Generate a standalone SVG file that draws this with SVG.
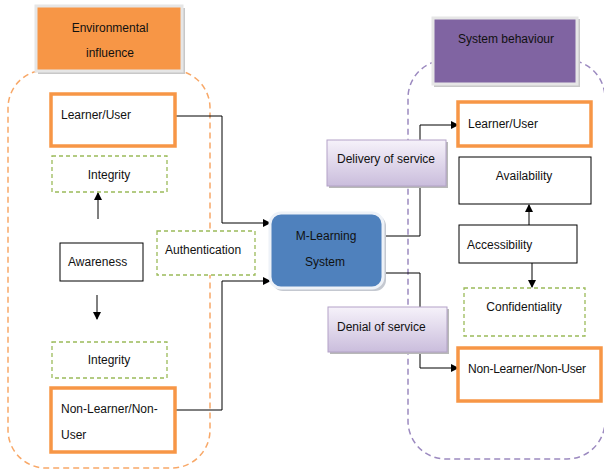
<svg xmlns="http://www.w3.org/2000/svg" width="604" height="470" viewBox="0 0 604 470">
<defs>
<style>
text{font-family:"Liberation Sans",Arial,sans-serif;font-size:12px;fill:#111}
.c{text-anchor:middle}
.orange{fill:#fff;stroke:#F79646;stroke-width:3.5}
.plain{fill:#fff;stroke:#000;stroke-width:1}
.green{fill:#fff;stroke:#9BBB59;stroke-width:1.3;stroke-dasharray:4 3}
.conn{fill:none;stroke:#000;stroke-width:1}
.lav{fill:url(#lavg);stroke:#B3A2C7;stroke-width:1}
.sh{fill:#b8b8b8}
</style>
<linearGradient id="lavg" x1="0" y1="0" x2="0" y2="1">
<stop offset="0" stop-color="#F6F2FA"/>
<stop offset="1" stop-color="#CABDDC"/>
</linearGradient>
<marker id="ah" markerWidth="8" markerHeight="8" refX="7" refY="4" orient="auto" markerUnits="userSpaceOnUse">
<path d="M0,0 L8,4 L0,8 Z" fill="#000"/>
</marker>
</defs>

<g id="containers">
<rect x="8" y="70" width="202" height="398" rx="38" fill="none" stroke="#F8A868" stroke-width="1.5" stroke-dasharray="6 4"/>
<rect x="408" y="60" width="197" height="399" rx="38" fill="none" stroke="#9C8AC0" stroke-width="1.5" stroke-dasharray="6 4"/>
</g>

<g id="connectors">
<path class="conn" d="M175,116 H222 V223 H270" marker-end="url(#ah)"/>
<path class="conn" d="M175,410 H222 V281 H270" marker-end="url(#ah)"/>
<path class="conn" d="M383,236 H420 V125 H458" marker-end="url(#ah)"/>
<path class="conn" d="M383,273 H420 V368 H458" marker-end="url(#ah)"/>
<path class="conn" d="M98,219 V193" marker-end="url(#ah)"/>
<path class="conn" d="M97,295 V319" marker-end="url(#ah)"/>
<path class="conn" d="M529,225 V205" marker-end="url(#ah)"/>
<path class="conn" d="M532,263 V287" marker-end="url(#ah)"/>
</g>

<g id="env-influence">
<rect x="38" y="8" width="147" height="66" fill="#c8c8c8"/>
<rect x="36" y="6" width="146" height="65" fill="#F79646" stroke="#E6E6E6" stroke-width="3"/>
<text class="c" x="110" y="32">Environmental</text>
<text class="c" x="110" y="57">influence</text>
</g>

<g id="learner-left">
<rect class="orange" x="51" y="94" width="124" height="52"/>
<text x="61" y="119">Learner/User</text>
</g>

<g id="integrity-top">
<rect class="green" x="52" y="156" width="115" height="36"/>
<text class="c" x="109" y="179">Integrity</text>
</g>

<g id="awareness">
<rect class="plain" x="60" y="243" width="83" height="38"/>
<text x="68" y="266">Awareness</text>
</g>

<g id="integrity-bottom">
<rect class="green" x="52" y="342" width="115" height="36"/>
<text class="c" x="109" y="364">Integrity</text>
</g>

<g id="nonlearner-left">
<rect class="orange" x="51" y="388" width="124" height="64"/>
<text x="61" y="413">Non-Learner/Non-</text>
<text x="61" y="439">User</text>
</g>

<g id="authentication">
<rect class="green" x="157" y="231" width="98" height="44"/>
<text x="165" y="254">Authentication</text>
</g>

<g id="mlearning">
<rect x="272" y="215" width="114" height="76" rx="11" fill="#c4c8d0"/>
<rect x="270" y="213" width="113" height="75" rx="11" fill="#4F81BD" stroke="#EEF2F8" stroke-width="3"/>
<text class="c" x="326" y="240">M-Learning</text>
<text class="c" x="325" y="266">System</text>
</g>

<g id="delivery">
<rect class="sh" x="329" y="142" width="119" height="46"/>
<rect class="lav" x="327" y="140" width="119" height="46"/>
<text x="337" y="163">Delivery of service</text>
</g>

<g id="denial">
<rect class="sh" x="330" y="309" width="119" height="45"/>
<rect class="lav" x="328" y="307" width="119" height="45"/>
<text x="337" y="331">Denial of service</text>
</g>

<g id="system-behaviour">
<rect x="434" y="19" width="146" height="68" fill="#c8c8c8"/>
<rect x="433" y="18" width="144" height="66" fill="#8064A2" stroke="#E6E6E6" stroke-width="3"/>
<text class="c" x="506" y="43">System behaviour</text>
</g>

<g id="learner-right">
<rect class="orange" x="458" y="102" width="133" height="44"/>
<text x="468" y="128">Learner/User</text>
</g>

<g id="availability">
<rect class="plain" x="459" y="157" width="132" height="47"/>
<text class="c" x="524" y="180">Availability</text>
</g>

<g id="accessibility">
<rect class="plain" x="459" y="225" width="118" height="38"/>
<text x="467" y="249">Accessibility</text>
</g>

<g id="confidentiality">
<rect class="green" x="464" y="288" width="121" height="48"/>
<text class="c" x="524" y="311">Confidentiality</text>
</g>

<g id="nonlearner-right">
<rect class="orange" x="458" y="348" width="143" height="53"/>
<text x="468" y="373" textLength="118">Non-Learner/Non-User</text>
</g>
</svg>
